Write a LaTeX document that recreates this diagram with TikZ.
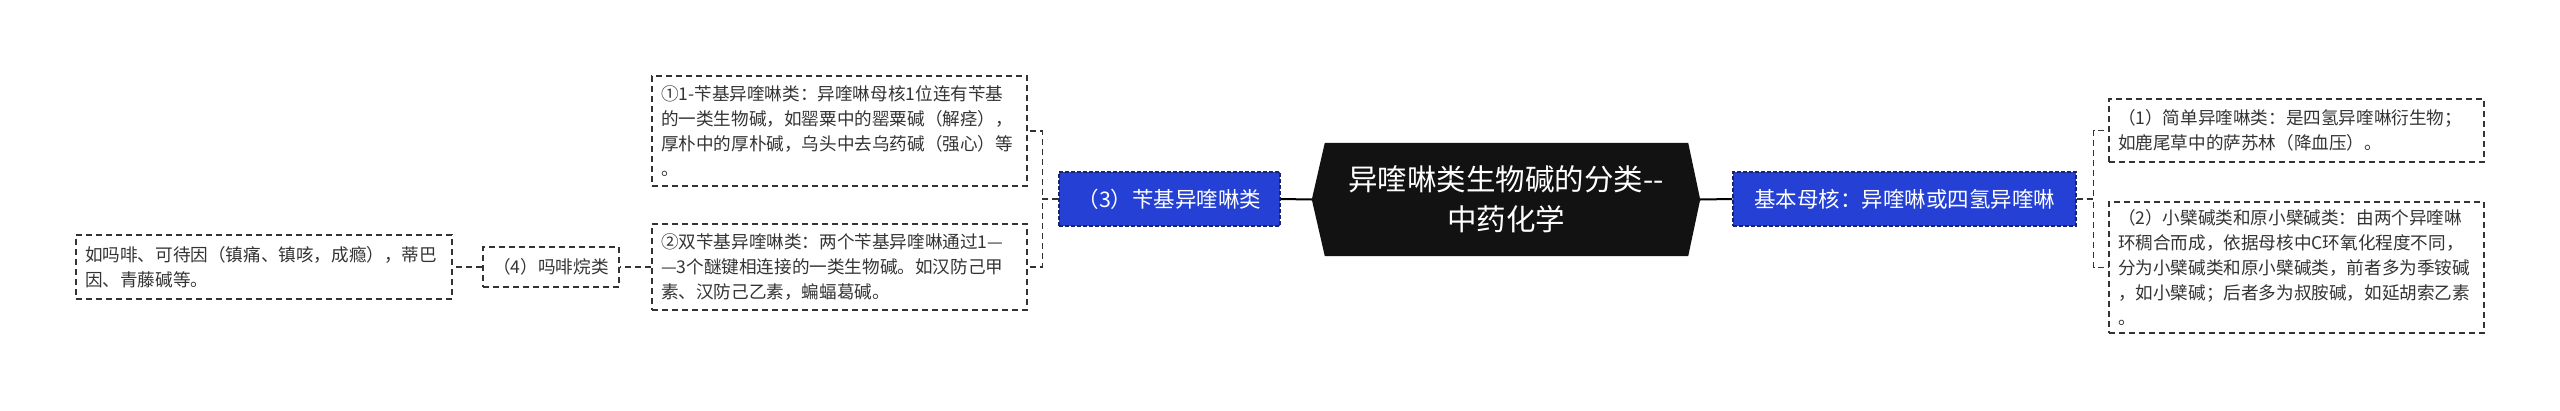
\documentclass[tikz,border=0pt]{standalone}
\usepackage{fontspec}
\newfontfamily\cjk{Noto Sans CJK SC}
\usetikzlibrary{positioning,backgrounds}
\definecolor{nodeblue}{RGB}{37,64,212}
\definecolor{bordernavy}{RGB}{25,35,110}
\definecolor{textgray}{RGB}{51,51,51}
\tikzset{
  dashbox/.style={draw=textgray, dash pattern=on 6pt off 4pt, line width=1.6pt,
    text=textgray, font=\cjk\fontsize{17.6}{25}\selectfont, align=left,
    inner xsep=9pt, inner ysep=0pt, text width=357pt},
  smallbox/.style={draw=textgray, dash pattern=on 6pt off 4pt, line width=1.6pt,
    text=textgray, font=\cjk\fontsize{17.6}{25}\selectfont, inner xsep=10pt,
    minimum height=40pt, minimum width=136pt},
  bluebox/.style={fill=nodeblue, draw=bordernavy, dash pattern=on 4pt off 2pt,
    line width=1.2pt, text=white, font=\cjk\fontsize{21.5}{25}\selectfont,
    minimum height=54pt},
  titlenode/.style={text=white, font=\cjk\fontsize{29.5}{40}\selectfont, align=center,
    minimum width=388pt, minimum height=113pt},
  solidlink/.style={draw=black, line width=2pt},
  dashlink/.style={draw=textgray, dash pattern=on 6pt off 4pt, line width=1.6pt}
}
\begin{document}
\begin{tikzpicture}[x=1pt,y=-1pt]
  \useasboundingbox (0,0) rectangle (2560,410);
  \node[titlenode] (root) at (1506,199.5) {异喹啉类生物碱的分类--\\中药化学};
  \begin{scope}[on background layer]
    \fill[black!93] (root.west) -- ([xshift=13pt]root.north west) -- ([xshift=-12pt]root.north east)
      -- (root.east) -- ([xshift=-12pt]root.south east) -- ([xshift=13pt]root.south west) -- cycle;
  \end{scope}

  \node[bluebox, minimum width=221pt] (benzyl) at (1169.5,199) {（3）苄基异喹啉类};
  \node[bluebox, minimum width=343pt] (core) at (1904.5,199) {基本母核：异喹啉或四氢异喹啉};

  \node[dashbox, minimum height=110pt] (mono) at (839.5,131)
    {①1-苄基异喹啉类：异喹啉母核1位连有苄基\\的一类生物碱，如罂粟中的罂粟碱（解痉），\\厚朴中的厚朴碱，乌头中去乌药碱（强心）等\\。};
  \node[dashbox, minimum height=86pt] (bis) at (839.5,267)
    {②双苄基异喹啉类：两个苄基异喹啉通过1—\\—3个醚键相连接的一类生物碱。如汉防己甲\\素、汉防己乙素，蝙蝠葛碱。};
  \node[smallbox] (morphinan) at (551,267) {（4）吗啡烷类};
  \node[dashbox, text width=358pt, minimum height=64pt] (morphine) at (264,267)
    {如吗啡、可待因（镇痛、镇咳，成瘾），蒂巴\\因、青藤碱等。};

  \node[dashbox, minimum height=63pt] (simple) at (2296.5,130.5)
    {（1）简单异喹啉类：是四氢异喹啉衍生物；\\如鹿尾草中的萨苏林（降血压）。};
  \node[dashbox, minimum height=131pt] (berberine) at (2296.5,267.5)
    {（2）小檗碱类和原小檗碱类：由两个异喹啉\\环稠合而成，依据母核中C环氧化程度不同，\\分为小檗碱类和原小檗碱类，前者多为季铵碱\\，如小檗碱；后者多为叔胺碱，如延胡索乙素\\。};

  \draw[solidlink] (root.west) -- (benzyl.east);
  \draw[solidlink] (root.east) -- (core.west);
  \draw[dashlink] (benzyl.west) -- ++(-16,0) |- (mono.east);
  \draw[dashlink] (benzyl.west) -- ++(-16,0) |- (bis.east);
  \draw[dashlink] (bis.west) -- (morphinan.east);
  \draw[dashlink] (morphinan.west) -- (morphine.east);
  \draw[dashlink] (core.east) -- ++(17,0) |- (simple.west);
  \draw[dashlink] (core.east) -- ++(17,0) |- (berberine.west);
\end{tikzpicture}
\end{document}
